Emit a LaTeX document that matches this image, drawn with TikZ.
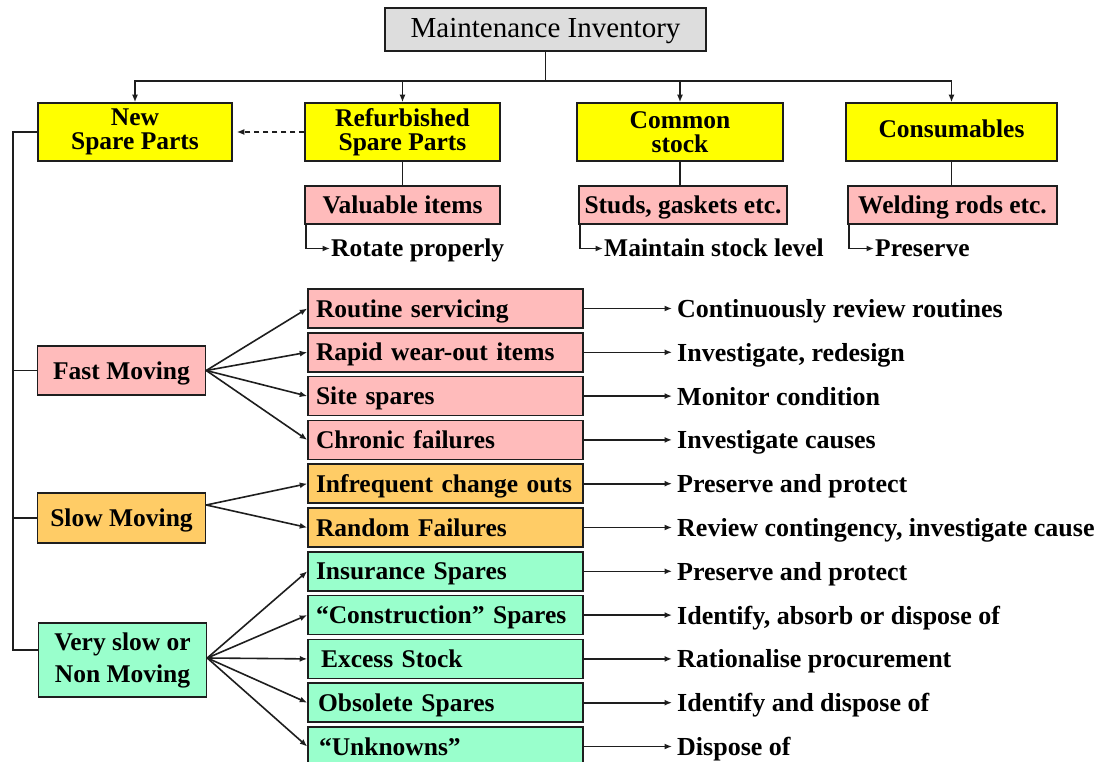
\documentclass[tikz,border=0pt]{standalone}
\usepackage{fontspec}
\setmainfont{Liberation Serif}
\usetikzlibrary{arrows.meta}
\definecolor{cgrey}{RGB}{221,221,221}
\definecolor{cyellow}{RGB}{255,255,0}
\definecolor{cpink}{RGB}{255,187,187}
\definecolor{corange}{RGB}{255,204,102}
\definecolor{cgreen}{RGB}{153,255,204}
\definecolor{cline}{RGB}{30,30,30}
\begin{document}
\begin{tikzpicture}[x=1pt,y=-1pt,
  conn/.style={draw=cline, line width=1.6pt},
  arr/.style={conn, -{Latex[length=7.5pt,width=6pt]}},
  bfont/.style={font=\fontsize{25.5}{24}\selectfont\bfseries},
  box/.style={draw=cline, line width=1.5pt, inner sep=0pt, bfont, align=center},
  topbox/.style={box, fill=cyellow, minimum height=58pt},
  subbox/.style={box, fill=cpink, minimum height=38pt, text height=18pt, text depth=1pt},
  midbox/.style={box, minimum height=39pt, inner xsep=8pt, text width=259pt, align=left, text height=18pt, text depth=1pt},
  leftbox/.style={box, minimum width=168pt},
  note/.style={inner sep=0pt, font=\fontsize{26}{24}\selectfont\bfseries, anchor=west, text height=17pt, text depth=1pt},
  subnote/.style={inner sep=0pt, bfont, anchor=west, text height=17pt, text depth=0pt}
]
\useasboundingbox (0,0) rectangle (1112,762);
\clip (0,0) rectangle (1112,762);

% title
\node[box, fill=cgrey, font=\fontsize{29}{28}\selectfont, minimum width=321pt, minimum height=43pt, text height=18pt, text depth=1pt] (title) at (545.5,29.5) {Maintenance Inventory};

% top row
\node[topbox, minimum width=194pt] (new) at (135,132) {New\\Spare Parts};
\node[topbox, minimum width=195pt] (refurb) at (402.5,132) {Refurbished\\Spare Parts};
\node[topbox, minimum width=206pt] (common) at (680,132) {Common\\stock};
\node[topbox, minimum width=211pt, text height=17pt, text depth=6pt] (cons) at (951.5,132) {Consumables};

\draw[conn] (title.south) -- ++(0,29) coordinate (bus);
\draw[arr] (bus) -| (new.north);
\draw[arr] (bus) -| (refurb.north);
\draw[arr] (bus) -| (common.north);
\draw[arr] (bus) -| (cons.north);
\draw[arr, dash pattern=on 5pt off 4pt, shorten >=4pt] (refurb.west) -- (new.east);

% second row
\node[subbox, minimum width=195pt] (valuable) at (402.5,205) {Valuable items};
\node[subbox, minimum width=208pt] (studs) at (683,205) {Studs, gaskets etc.};
\node[subbox, minimum width=209pt] (welding) at (952.5,205) {Welding rods etc.};
\draw[conn] (refurb.south) -- (refurb.south |- valuable.north);
\draw[conn] (common.south) -- (common.south |- studs.north);
\draw[conn] (cons.south) -- (cons.south |- welding.north);

\node[subnote] (rotate) at (331,248.5) {Rotate properly};
\node[subnote] (maintain) at (604,248.5) {Maintain stock level};
\node[subnote] (preserve) at (875,248.5) {Preserve};
\draw[arr, shorten >=1pt] ([xshift=2pt]valuable.south west) |- (rotate.west);
\draw[arr, shorten >=1pt] ([xshift=2pt]studs.south west) |- (maintain.west);
\draw[arr, shorten >=1pt] ([xshift=2pt]welding.south west) |- (preserve.west);

% left boxes
\node[leftbox, fill=cpink, minimum height=49pt, text height=18pt, text depth=1pt] (fast) at (121.5,370.5) {Fast Moving};
\node[leftbox, fill=corange, minimum height=50pt, text height=18pt, text depth=1pt] (slow) at (121.5,518) {Slow Moving};
\node[leftbox, fill=cgreen, minimum height=74pt, font=\fontsize{25.5}{32}\selectfont\bfseries] (vslow) at (122.5,660) {Very slow or\\Non Moving};

\draw[conn] (new.west) -- ++(-24.5,0) |- ([yshift=10pt]vslow.west);
\draw[conn] (fast.west) -- ++(-24.5,0);
\draw[conn] (slow.west) -- ++(-24.5,0);

% middle boxes
\foreach \i/\txt/\col in {
  0/Routine servicing/cpink,
  1/Rapid wear-out items/cpink,
  2/Site spares/cpink,
  3/Chronic failures/cpink,
  4/Infrequent change outs/corange,
  5/Random Failures/corange,
  6/Insurance Spares/cgreen,
  7/“Construction” Spares/cgreen,
  8/\hspace{5pt}Excess Stock/cgreen,
  9/\hspace{2pt}Obsolete Spares/cgreen,
  10/\hspace{3pt}“Unknowns”/cgreen}
{
  \node[midbox, fill=\col] (m\i) at (445.5,{308.5+43.8*\i}) {\txt};
}

% right notes
\foreach \i/\txt in {
  0/Continuously review routines,
  1/{Investigate, redesign},
  2/Monitor condition,
  3/Investigate causes,
  4/Preserve and protect,
  5/{Review contingency, investigate cause},
  6/Preserve and protect,
  7/{Identify, absorb or dispose of},
  8/Rationalise procurement,
  9/Identify and dispose of,
  10/Dispose of}
{
  \node[note] (t\i) at (677,{309.5+43.8*\i}) {\txt};
  \draw[arr, shorten >=5pt] (m\i.east) -- (m\i.east -| t\i.west);
}

% fan-out arrows
\foreach \i in {0,1,2,3} { \draw[arr] (fast.east) -- (m\i.west); }
\foreach \i in {4,5} { \draw[arr] ([yshift=13pt]slow.east) -- (m\i.west); }
\foreach \i in {6,7,8,9,10} { \draw[arr] ([yshift=2pt]vslow.east) -- (m\i.west); }

\end{tikzpicture}
\end{document}
